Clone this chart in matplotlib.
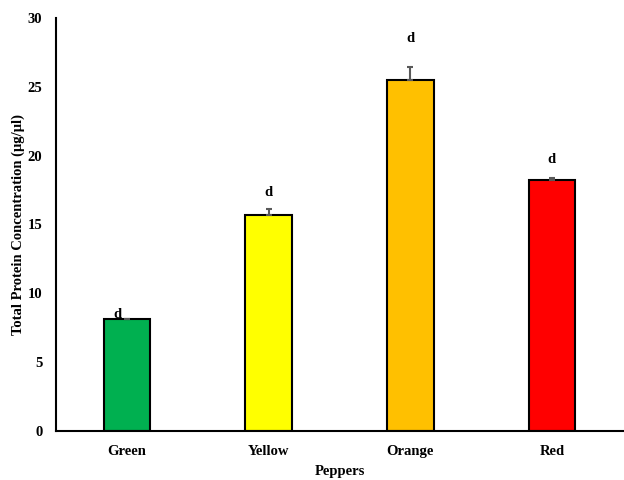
import matplotlib
matplotlib.use("Agg")
import matplotlib.pyplot as plt

categories = ["Green", "Yellow", "Orange", "Red"]
protein = [8.1, 15.7, 25.5, 18.2]
errors = [0.05, 0.4, 0.9, 0.15]
letters = ["d", "d", "d", "d"]
letter_y = [8.2, 17.05, 28.25, 19.45]
colors = ["#00B050", "#FFFF00", "#FFC000", "#FF0000"]

plt.rcParams["font.family"] = ["Liberation Serif", "DejaVu Serif"]
plt.rcParams["font.weight"] = "bold"

fig = plt.figure(figsize=(6.24, 4.8), dpi=100)
ax = fig.add_axes([0.09, 0.102, 0.908, 0.861])

x = list(range(len(categories)))
ax.bar(x, protein, width=0.33, color=colors, edgecolor="black", linewidth=1.5, zorder=2)
ax.errorbar(x, protein, yerr=[[0] * len(errors), errors], fmt="none",
            ecolor="#595959", elinewidth=1.5, capsize=2.5, capthick=1.5, zorder=3)

# significance letters; a letter resting on its bar sits left of the error cap
for xi, ly, t in zip(x, letter_y, letters):
    shift = -0.065 if ly - protein[xi] < 0.5 else 0.0
    ax.text(xi + shift, ly, t, ha="center", va="baseline",
            fontsize=10.5, fontweight="bold")

ax.set_xlim(-0.5, 3.5)
ax.set_ylim(0, 30)
ax.set_yticks(range(0, 31, 5))
ax.set_xticks(x)
ax.set_xticklabels(categories)
ax.tick_params(axis="both", length=0, labelsize=10.5, pad=10)
for lab in ax.get_xticklabels() + ax.get_yticklabels():
    lab.set_fontweight("bold")

ax.spines["top"].set_visible(False)
ax.spines["right"].set_visible(False)
ax.spines["left"].set_linewidth(1.5)
ax.spines["bottom"].set_linewidth(1.5)

ax.set_xlabel("Peppers", fontsize=10.5, fontweight="bold", labelpad=5)
ax.set_ylabel("Total Protein Concentration (μg/μl)", fontsize=10.5, fontweight="bold", labelpad=2)

fig.savefig("out.png", dpi=100)
